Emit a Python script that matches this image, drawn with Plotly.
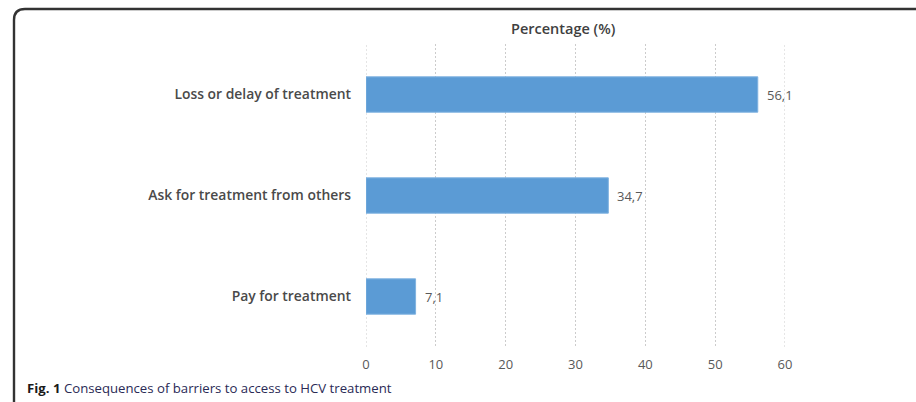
import plotly.graph_objects as go

# Consequences of barriers to access to HCV treatment (% of respondents)
categories = ["Loss or delay of treatment", "Ask for treatment from others", "Pay for treatment"]
percentages = [56.1, 34.7, 7.1]
x_ticks = [0, 10, 20, 30, 40, 50, 60]

W, H = 916, 402
ML, MR, MT, MB = 366, 131, 44, 55
PW, PH = W - ML - MR, H - MT - MB


def px(x):
    return (x - ML) / PW


def py(y):
    return (H - MB - y) / PH


bar_color = "#5b9bd5"
label_color = "#595959"
grid_color = "#cccccc"
grid_dash = "2px,2px"

fig = go.Figure(
    go.Bar(
        x=percentages,
        y=categories,
        orientation="h",
        width=0.35,
        marker=dict(color=bar_color, line=dict(color="#7fb2e0", width=1)),
        hoverinfo="skip",
    )
)

# gridlines on the range edges (plotly skips these ones)
for t in (x_ticks[0], x_ticks[-1]):
    fig.add_vline(x=t, line=dict(color=grid_color, width=1, dash=grid_dash), layer="below")

# value labels with decimal comma, placed just past each bar end
for cat, val in zip(categories, percentages):
    fig.add_annotation(
        x=val, y=cat, xref="x", yref="y",
        text=f"{val:.1f}".replace(".", ","),
        showarrow=False, xanchor="left", xshift=7,
        font=dict(family="Open Sans", size=13, color=label_color),
    )

# axis title above the plot
fig.add_annotation(
    x=px(563), y=py(28), xref="paper", yref="paper",
    xanchor="center", yanchor="middle",
    text="Percentage (%)", showarrow=False,
    font=dict(family="Open Sans", size=14.5, color="#404040", weight=600),
)

# figure caption
fig.add_annotation(
    x=px(25), y=py(388), xref="paper", yref="paper",
    xanchor="left", yanchor="middle",
    text="<b>Fig. 1</b> <span style='color:#2a2a55'>Consequences of barriers to access to HCV treatment</span>",
    showarrow=False,
    font=dict(family="Open Sans", size=13.2, color="#1a1a1a"),
)

# rounded frame (top and left edges)
x0, y0, r = 14, 9, 11
path = (
    f"M {px(x0)} {py(H + 5)} L {px(x0)} {py(y0 + r)} "
    f"Q {px(x0)} {py(y0)} {px(x0 + r)} {py(y0)} L {px(W + 5)} {py(y0)}"
)
fig.add_shape(
    type="path", path=path, xref="paper", yref="paper",
    line=dict(color="#333333", width=2.4), layer="above",
)

fig.update_xaxes(
    range=[0, 60],
    tickvals=x_ticks,
    showgrid=True, gridcolor=grid_color, gridwidth=1, griddash=grid_dash,
    zeroline=False, showline=False,
    ticklabelstandoff=8,
    tickfont=dict(family="Open Sans", size=13, color=label_color),
    fixedrange=True,
)
fig.update_yaxes(
    categoryorder="array", categoryarray=categories[::-1],
    showgrid=False, zeroline=False, showline=False,
    ticklabelstandoff=14,
    tickfont=dict(family="Open Sans", size=13.9, color="#4a4a4a", weight=600),
    fixedrange=True,
)

fig.update_layout(
    width=W, height=H,
    margin=dict(l=ML, r=MR, t=MT, b=MB, autoexpand=False),
    paper_bgcolor="white", plot_bgcolor="white",
    showlegend=False,
    bargap=0.65,
)

fig.write_html("out.html", config={"displayModeBar": False})
